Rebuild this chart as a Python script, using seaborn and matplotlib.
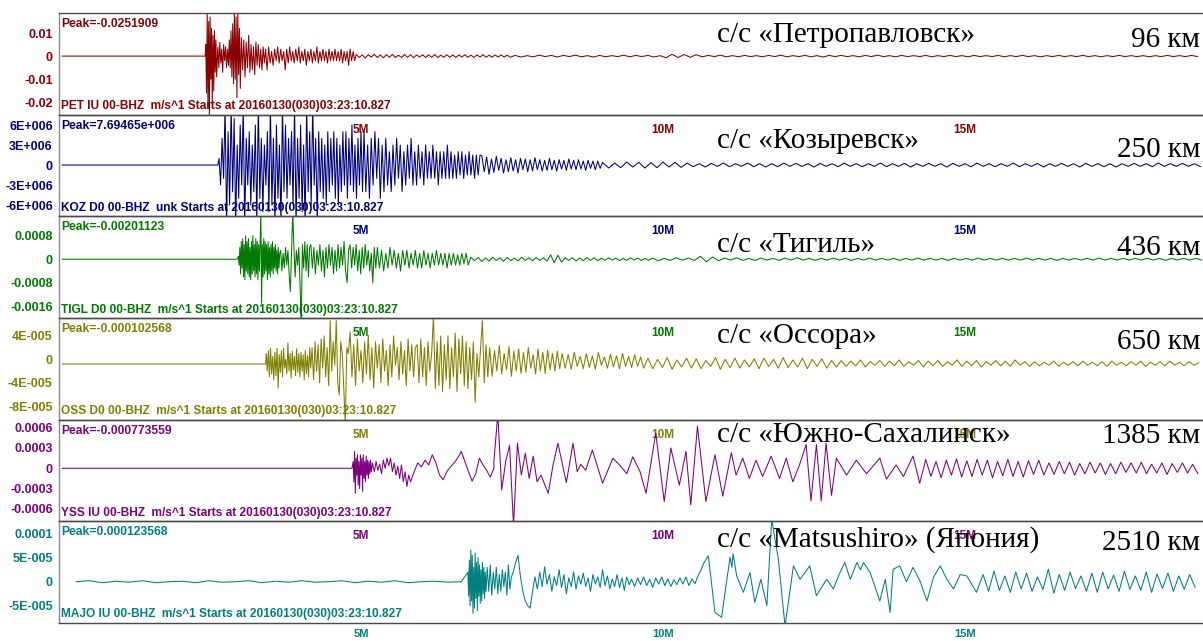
import numpy as np
import pandas as pd
import matplotlib
matplotlib.use("Agg")
import matplotlib.pyplot as plt
import seaborn as sns

# ---------------- DATA (time in minutes, amplitude in listed units) ----------------
STATIONS = ["PET", "KOZ", "TIGL", "OSS", "YSS", "MAJO"]
COLORS = ["#8b0000", "#00007f", "#007a00", "#808000", "#7f007f", "#007f7f"]
UNIT_SCALE = [1e-3, 1e6, 1e-4, 1e-6, 1e-4, 1e-6]
PEAK_TEXT = ["Peak=-0.0251909", "Peak=7.69465e+006", "Peak=-0.00201123",
             "Peak=-0.000102568", "Peak=-0.000773559", "Peak=0.000123568"]
INFO_TEXT = ["PET IU 00-BHZ  m/s^1 Starts at 20160130(030)03:23:10.827",
             "KOZ D0 00-BHZ  unk Starts at 20160130(030)03:23:10.827",
             "TIGL D0 00-BHZ  m/s^1 Starts at 20160130(030)03:23:10.827",
             "OSS D0 00-BHZ  m/s^1 Starts at 20160130(030)03:23:10.827",
             "YSS IU 00-BHZ  m/s^1 Starts at 20160130(030)03:23:10.827",
             "MAJO IU 00-BHZ  m/s^1 Starts at 20160130(030)03:23:10.827"]
STATION_LABELS = ["с/с «Петропавловск»", "с/с «Козыревск»", "с/с «Тигиль»",
                  "с/с «Оссора»", "с/с «Южно-Сахалинск»", "с/с «Matsushiro» (Япония)"]
DISTANCES = ["96 км", "250 км", "436 км", "650 км", "1385 км", "2510 км"]
YTICKS = [[0.01, 0, -0.01, -0.02],
          [6e6, 3e6, 0, -3e6, -6e6],
          [8e-4, 0, -8e-4, -1.6e-3],
          [4e-5, 0, -4e-5, -8e-5],
          [6e-4, 3e-4, 0, -3e-4, -6e-4],
          [1e-4, 5e-5, 0, -5e-5]]
YTICKLABELS = [["0.01", "0", "-0.01", "-0.02"],
               ["6E+006", "3E+006", "0", "-3E+006", "-6E+006"],
               ["0.0008", "0", "-0.0008", "-0.0016"],
               ["4E-005", "0", "-4E-005", "-8E-005"],
               ["0.0006", "0.0003", "0", "-0.0003", "-0.0006"],
               ["0.0001", "5E-005", "0", "-5E-005"]]
XTICKS = [5, 10, 15]
XTICKLABELS = ["5M", "10M", "15M"]

# segments: (start, sample step, values)  or  (times, values)
PET = [
    (0.05, 2.37, [0, 0]),
    (2.43, 0.012, [5, -16, 19, -22, 15, -26, 17, -10, 12, -21, 9, -15, 11, -7, 7, -9]),
    (2.63, 0.016, [4, -5, 6, -3, 3, -7, 5, -2, 4, -5, 3, -4]),
    (2.82, 0.014, [7, -5, 11, -9, 14, -12, 19, -10, 17, -18, 19, -8, 12, -14]),
    (3.02, 0.02, [8, -6, 7, -9, 6, -5, 9, -7, 5, -6, 4, -8, 6, -4, 5, -5, 3, -6, 4, -3]),
    (3.42, 0.025, [3, -6, 4, -3, 2, -4, 3, -2, 4, -3, 3, -2, 2, -6, 3, -3, 4, -2, 2, -3,
                   3, -2, 4, -3, 2, -2, 3, -4, 2, -2, 3, -3, 2, -2, 4, -3, 2, -2, 3, -2,
                   2, -3, 3, -2, 2, -2, 3, -2, 2, -2, 3, -3, 2, -2, 2, -4, 3, -2, 2, -2]),
    (4.92, 0.05, [0.7, -0.6, 0.5, -0.8, 0.6, -0.4, 0.8, -0.6, 0.5, -0.7, 0.6, -0.5, 0.7,
                  -0.6, 0.4, -0.6, 0.7, -0.5, 0.6, -0.7, 0.5, -0.4, 0.6, -0.6, 0.5, -0.5,
                  0.7, -0.6, 0.4, -0.5, 0.6, -0.5, 0.5, -0.6, 0.5, -0.4, 0.6, -0.5, 0.4,
                  -0.6, 0.5, -0.4, 0.6, -0.5, 0.4, -0.5, 0.5, -0.4, 0.5, -0.4, 0.4, -0.5]),
    (7.55, 0.1, [0.3, -0.4, 0.2, -0.3, 0.4, -0.2, 0.3, -0.4, 0.3, -0.2,
                 0.4, -0.3, 0.2, -0.4, 0.3, -0.3, 0.2, -0.2, 0.4, -0.3,
                 0.3, -0.2, 0.3, -0.4, 0.2, -0.7, 0.8, -0.6, 0.7, -0.5,
                 0.6, -0.3, 0.3, -0.2, 0.4, -0.3, 0.2, -0.3, 0.3, -0.2,
                 0.2, -0.3, 0.3, -0.2, 0.4, -0.3, 0.2, -0.2, 0.3, -0.3,
                 0.2, -0.4, 0.3, -0.2, 0.3, -0.2, 0.2, -0.3, 0.3, -0.2,
                 0.4, -0.2, 0.2, -0.3, 0.3, -0.2, 0.2, -0.2, 0.3, -0.3,
                 0.2, -0.2, 0.3, -0.2, 0.2, -0.3, 0.3, -0.2, 0.2, -0.2,
                 0.3, -0.3, 0.2, -0.2, 0.3, -0.2, 0.2, -0.3, 0.2, -0.2,
                 0.3, -0.2, 0.2, -0.2, 0.3, -0.2, 0.2, -0.3, 0.2, -0.2,
                 0.3, -0.2, 0.2, -0.2, 0.2, -0.3, 0.2, -0.2, 0.3, -0.2,
                 0.2, -0.2, 0.3, -0.2]),
]

KOZ = [
    (0.05, 2.58, [0, 0]),
    (2.65, 0.025, [1, -3, 4, -2, 9, -9, 5, -6, 9, -4, 7, -9, 3, -5, 6, -3, 9, -9, 4, -3,
                   5, -6, 3, -4, 6, -9, 9, -5, 4, -7, 3, -3, 5, -7, 9, -6, 4, -9, 6, -5,
                   3, -9, 9, -4, 6, -5, 4, -3, 5, -6, 9, -9, 4, -5, 6, -7, 3, -9, 9, -4,
                   5, -6, 9, -3, 4, -9, 5, -4, 4, -5, 3, -6, 5, -4, 4, -3, 5, -5, 4, -6,
                   3, -4, 5, -3, 5, -5, 4, -3, 6, -4, 3, -5, 4, -3, 5, -4]),
    (5.05, 0.03, [5, -4, 3, -5, 4, -3, 5, -2, 4, -5, 3, -4, 4, -3, 2, -4, 3, -3, 4, -2,
                  3, -4, 2, -3, 3, -2, 4, -3, 2, -3, 3, -2, 2, -3, 3, -2, 2, -2, 3, -2,
                  2, -3, 2, -2, 2, -2, 3, -2, 2, -2, 1.5, -2, 2, -1.5, 2, -2, 1.5, -1.5,
                  2, -1.5, 1.5, -2, 1.5, -1.5, 1.5]),
    (7.0, 0.04, [1.4, -1, 1.2, -1.4, 0.9, -1.1, 1.3, -0.8, 1, -1.2, 0.8, -1, 1.1, -0.9,
                 0.8, -1.2, 1, -0.7, 0.9, -1, 0.8, -0.9, 1.1, -0.7, 0.8, -0.9, 0.7, -0.8,
                 1, -0.7, 0.7, -0.9, 0.8, -0.6, 0.7, -0.8, 0.9, -0.6, 0.7, -0.7, 0.8,
                 -0.6, 0.6, -0.8, 0.7, -0.5, 0.6, -0.7, 0.6, -0.5]),
    (9.0, 0.1, [0.4, -0.45, 0.3, -0.4, 0.45, -0.3, 0.4, -0.45, 0.35, -0.4, 0.45, -0.3,
                0.4, -0.35, 0.3,
                -0.25, 0.2, -0.3, 0.25, -0.2, 0.3, -0.25, 0.2, -0.2, 0.3,
                -0.25, 0.2, -0.3, 0.2, -0.25, 0.3, -0.2, 0.25, -0.2, 0.2,
                -0.3, 0.25, -0.2, 0.2, -0.25, 0.3, -0.2, 0.2, -0.25, 0.2,
                -0.2, 0.3, -0.25, 0.2, -0.2, 0.25, -0.3, 0.2, -0.2, 0.25,
                -0.2, 0.2, -0.3, 0.25, -0.2, 0.2, -0.25, 0.3, -0.2, 0.2,
                -0.25, 0.2, -0.2, 0.3, -0.25, 0.2, -0.2, 0.25, -0.3, 0.2,
                -0.2, 0.25, -0.2, 0.2, -0.3, 0.25, -0.2, 0.2, -0.25, 0.2,
                -0.3, 0.2, -0.2, 0.25, -0.2, 0.2, -0.25, 0.3, -0.2, 0.2,
                -0.2, 0.25, -0.2, 0.2, -0.25]),
]

TIGL = [
    (0.05, 2.9, [0, 0]),
    (2.97, 0.012, [1, -2, 4, -5, 6, -3, 7, -6, 5, -7, 8, -4, 6, -5, 7, -6, 4, -7, 6, -5,
                   8, -4, 5, -6, 7, -5, 6, -7, 5, -4, 6, 16, -15, 5, -6, 7, -5, 6, -4, 5,
                   -7, 6, -5, 4, -6, 5, -4, 6, -5, 4, -3, 5, -4, 3, -5, 4, -3, 2]),
    (3.67, 0.02, [3, -4, 2, -3, 4, -2, 3, -5, -11, 2, 16, 4, -6, 3, -2, 4, -8, -23, 5, -3,
                  6, -4, 5, -6, 4]),
    (4.17, 0.025, [5, -3, 4, -5, 3, -2, 5, -4, 3, -6, 4, -3, 5, -2, 4, -5, 3, -4, 5, -3,
                   4, -2, 6, -4, -8, 3, 5, -3, 4, -2, 5, -4, 3, -5, 4, -3, 5, -2, 3, -4,
                   2, -8, 4, -3]),
    (5.27, 0.035, [4, -3, 3, -4, 2, -3, 4, -2, 3, -3, 2, -4, 3, -2, 3, -3, 2, -2, 3, -3,
                   2, -3, 3, -2, 2, -3, 2, -2, 3, -2, 2, -2, 2, -3, 2, -2, 2, -2, 1.5, -2,
                   2, -1.5, 2, -2]),
    (6.82, 0.06, [0.7, -0.5, 0.6, -0.7, 0.4, -0.6, 0.7, -0.4, 0.5, -0.7, 0.6, -0.5, 0.4,
                  -0.6, 0.7, -0.4, 0.5, -0.5, 0.6, -0.4, 0.5, -0.6, 1.5, -1.2, 1.4, -1.0,
                  0.5, -0.4, 0.5, -0.6, 0.4, -0.5, 0.6, -0.4, 0.5, -0.5, 0.4, -0.4, 0.5,
                  -0.3, 0.4, -0.5, 0.3, -0.4, 0.5, -0.3, 0.4, -0.4, 0.3, -0.4]),
    (9.82, 0.1, [0.4, -0.5, 0.3, -0.4, 0.5, -0.3, 0.4, -0.4, 1.0, -0.9, 0.8, -0.5, 0.4,
                 -0.3, 0.5, -0.4, 0.3, -0.4, 0.4, -0.3,
                 0.3, -0.4, 0.4, -0.3, 0.5, -0.3, 0.3, -0.4, 0.3, -0.3, 0.4, -0.3, 0.3,
                 -0.4, 0.3, -0.3, 0.4, -0.3, 0.3, -0.3,
                 0.3, -0.4, 0.3, -0.3, 0.4, -0.3, 0.3, -0.3, 0.3, -0.4, 0.3, -0.3, 0.3,
                 -0.3, 0.4, -0.3, 0.3, -0.3, 0.3, -0.3,
                 0.3, -0.3, 0.4, -0.3, 0.3, -0.3, 0.3, -0.4, 0.3, -0.3, 0.3, -0.3, 0.3,
                 -0.3, 0.4, -0.3, 0.3, -0.3, 0.3, -0.3,
                 0.3, -0.3, 0.3, -0.3, 0.3, -0.4, 0.3, -0.3, 0.3, -0.3, 0.3, -0.3]),
]

OSS = [
    (0.05, 3.37, [-8, -8]),
    (3.43, 0.018, [10, -20, 15, -30, 19, -25, 5, -35, 12, -28, 19, -49, 8, -22, 15, -30,
                   19, -15, 0, -25, 28, -20, 10, -32, 14, -18, 5, -28, 18, -22, 10, -30,
                   12, -20, 8, -35, 15, -25, 6, -30, 20, -15]),
    (4.19, 0.025, [20, -35, 30, -20, 25, -40, 35, -15, 40, -30, 20, -45, 66, -20, 30, -10,
                   66, -40, -61, 30, 10, -50, -110, 20]),
    (4.79, 0.03, [10, 47, -30, 25, -45, 35, -20, 15, -40, 30, -25, 41, -35, 20, -49, 30,
                  -15, 25, -40, 35, -20, 15, -45, 25, -30, 40, -10, 20, -35, 30, -25, 15,
                  -45, 35, -20, 25, -30, 20]),
    (5.93, 0.03, [25, -40, 35, -30, 20, -45, 30, -20, 10, 75, -50, 30, -45, 40, -55, 25,
                  -35, 40, -50, 20, -30, 45, -55, 35, -25, 40, -45, 30, -50, 20, -35, 30,
                  -73, 10, -30, 20, 66, -40, 25, -30]),
    (7.13, 0.04, [20, -29, 15, -20, 24, -25, 10, -18, 22, -29, 14, -20, 18, -24, 12, -22,
                  20, -15, 8, -25, 18, -20, 12, -24, 16, -18, 10, -20, 14, -16]),
    (8.33, 0.05, [10, -15, 8, -17, 12, -12, 5, -16, 10, -14, 6, -17, 12, -10, 4, -15, 9,
                  -13, 6, -16, 10, -12, 5, -14, 8, -12, 4, -15]),
    (9.75, 0.08, [2, -16, 0, -14, 3, -17, -1, -13, 2, -15, 1, -16, -2, -12, 3, -17, 0, -14,
                  2, -15, -1, -13, 1, -16, 2, -12, 0, -15, 3, -14, -1, -13, 2, -16, 0, -12,
                  1, -15, -2, -13,
                  -2, -12, -3, -11, -1, -13, -4, -10, -2, -12, -3, -11, -1, -12, -4, -10,
                  -2, -13, -3, -11, -2, -12, -4, -10, -1, -12, -3, -11, -2, -13, -4, -10,
                  -2, -11, -3, -12, -1, -10, -4, -12,
                  -4, -11, -5, -10, -3, -12, -5, -10, -4, -11, -3, -10, -5, -11, -4, -12,
                  -3, -10, -5, -11, -4, -10, -3, -12, -5, -10, -4, -11, -3, -10, -5, -11,
                  -4, -10, -6]),
]

YSS = [
    (0.05, 4.8, [0, 0]),
    (4.87, 0.012, [1, -2, 2.5, -3.7, 1.5, -1, 2, -2.5, 1, -3, 2, -1, 1.5, -3.4, 2, -1.5,
                   1, -2, 1.8, -1, 1.2, -1.5, 1, -0.8, 1.2, -0.5]),
    (5.19, 0.03, [0.8, -0.5, 1, -0.3, 0.6, -0.8, 1.2, 0, 1.5, 0.4, 1.5, -0.5, 0.8, -1,
                  0.3, -1.5, 0.5, -2, -0.5, -2.7, -1]),
    (5.82, 0.06, [-2, -0.5, 0.8, 0.2, 1.2, 0.5, 2, 0.8, -1, -1.7, -0.5, 0.2, 0.8, 1.5,
                  2.5, 1, -0.5, -1.9, -0.8, 1.5, 0.5, -0.3, -1.3, 0]),
    (7.2, 0.065, [1, 8, -3.2, 1, 3.4, -8.5, 3.7, -1, 2.2, -1.5, 1.8, -2]),
    ([7.98, 8.1, 8.18, 8.26, 8.4, 8.51, 8.58, 8.64, 8.72, 8.83, 9.0, 9.17, 9.3, 9.4,
      9.5, 9.62, 9.72, 9.88, 10.02, 10.13, 10.27, 10.38, 10.46, 10.57, 10.71, 10.86,
      10.99, 11.13, 11.21, 11.32, 11.43, 11.54, 11.65, 11.79, 11.93, 12.04, 12.15,
      12.26, 12.37, 12.45, 12.54, 12.62, 12.7, 12.79, 12.87, 13.04, 13.2, 13.37, 13.59,
      13.7, 13.86, 13.98, 14.14, 14.25],
     [-1, -3.7, 0.5, 3.7, -2.1, 3.7, -0.5, 0.6, -0.3, 2.7, -2.2, 1.5, 0.3, -0.8, 1.7,
      -0.5, -3.7, 5.2, -4.9, 3, -2.5, 2.5, -5.4, 6.2, -4.9, 2, -4.1, 2.3, -1, 1.5,
      -1.5, 1.2, -1.2, 1.8, -1.5, 1.5, -2, 0.5, 3.5, -4.8, 3.5, -4.8, 3.7, -4, 1.5,
      -1, 1.2, -0.8, 1.5, -1.6, 0.5, -1.2, 1.8, -2.2]),
    (14.35, 0.085, [1.3, -1.2, 1.0, -1.4, 1.2, -1.0, 1.4, -1.3, 1.1, -1.2, 1.3, -1.0,
                    1.2, -1.4, 1.0, -1.1, 1.3, -1.2, 1.0, -1.3, 1.1, -0.9, 1.2, -1.0,
                    0.8, -0.9, 1.0, -0.8, 0.9, -1.0, 0.7, -0.8, 0.9, -0.7, 0.8, -0.9,
                    0.7, -0.8, 0.9, -0.6, 0.8, -0.7, 0.9, -0.8, 0.6, -0.7, 0.8, -0.9,
                    0.7, -0.6, 0.8, -0.7, 0.6, -0.8]),
]

MAJO = [
    (0.28, 0.22, [0, 2, -2, 1, -1, 2, -2, 0, 1, -2, 2, -1, 0, 2, -2, 1, -1, 2, -1, 0,
                  2, -2, 1, -1, 2, -2, 0, 1, -1, 0]),
    (6.77, 0.012, [20, -30, 45, -50, 66, -40, 55, -66, 30, -55, 60, -35, 40, -60, 50, -30,
                   35, -45, 25, -40, 40, -25, 30, -35, 20, -20]),
    (7.09, 0.025, [30, -20, 35, -28, 20, -15, 30, -25, 15, -20, 25, -10, 20, -28, 35, -15,
                   10]),
    (7.52, 0.04, [20, 40, 55, 10, -20, -40, -50, -55, -20]),
    (7.88, 0.04, [10, -15, 20, -10, 31, -5, 15, -20, 10, -8, 25, -12, 15, -25, 8, -10, 20,
                  -15, 12, -5, 18, -10, 8, -20, 15, -5, 10, -12, 25, -8, 12, -15, 6, -10,
                  15, -12, 8, -18, 10, -6]),
    (9.48, 0.05, [5, -10, 8, -6, 10, -8, 5, -12, 8, -5, 10, -8, 6, -10, 4, -6, 8, -5, 10,
                  -8, 6, -4, 12, 25, 40]),
    ([10.75, 10.86, 10.97, 11.11, 11.14, 11.16, 11.22, 11.33, 11.44, 11.52, 11.62, 11.72,
      11.8, 11.91, 12.02, 12.16, 12.27, 12.43, 12.54, 12.71, 12.82, 12.93, 13.01, 13.1,
      13.21, 13.27, 13.32, 13.43, 13.59, 13.68, 13.76, 13.81, 13.92, 14.03, 14.14, 14.26,
      14.37, 14.48, 14.59, 14.7, 14.81, 14.92, 15.03, 15.19],
     [54, -64, -74, 51, 30, 58, 12, -22, 19, -43, 5, -50, 130, 47, -92, 33, 5, 33, -29,
      5, -15, 19, 40, 5, 40, 25, 40, 19, -40, 5, -64, 26, 33, 0, 30, 0, -40, 10, 33, 5,
      -15, 15, 12, -22]),
    (15.3, 0.09, [15, -20, 22, -18, 12, -22, 20, -15, 18, -20, 10, -16, 26, -24, 15, -18,
                  20, -14, 12, -20, 18, -22, 20, -15, 14, -20, 22, -16, 12, -18, 20, -22,
                  16, -14, 18, -20, 12, -16, 15, -12]),
]

TRACES = [PET, KOZ, TIGL, OSS, YSS, MAJO]
YLIMS = [(-0.0254, 0.0187), (-7.69e6, 7.55e6), (-0.00200, 0.00146),
         (-1.03e-4, 7.06e-5), (-7.83e-4, 7.18e-4), (-8.6e-5, 1.258e-4)]

# ---------------- helpers ----------------
def build(segments, scale):
    ts, vs = [], []
    for seg in segments:
        if isinstance(seg[0], (list, tuple)):
            times, vals = seg
        else:
            t0, dt, vals = seg
            times = [t0 + i * dt for i in range(len(vals))]
        ts.extend(times)
        vs.extend(vals)
    return pd.DataFrame({"t": ts, "v": np.asarray(vs, dtype=float) * scale})

# ---------------- figure ----------------
sns.set_style("white")
plt.rcParams["font.family"] = ["Liberation Sans", "DejaVu Sans"]

W, H = 1203, 641
fig = plt.figure(figsize=(W / 100, H / 100), dpi=100)
fig.patch.set_facecolor("white")

left_px, top_px, bottom_px = 59, 13, 623
panel_h = (bottom_px - top_px) / 6.0
XMAX = (W - left_px) / 60.4
SERIF = ["Liberation Serif", "DejaVu Serif"]
label_base = [42, 148, 252, 343, 442, 547]
dist_base = [47, 157, 255, 349, 443, 550]

for k in range(6):
    top = top_px + k * panel_h
    ax = fig.add_axes([left_px / W, 1 - (top + panel_h) / H, (W - left_px) / W, panel_h / H])
    ax.set_facecolor("none")
    col = COLORS[k]
    df = build(TRACES[k], UNIT_SCALE[k])
    sns.lineplot(data=df, x="t", y="v", ax=ax, color=col, lw=0.75,
                 estimator=None, sort=False)
    ax.set_xlim(0, XMAX)
    ax.set_ylim(*YLIMS[k])
    ax.set_xlabel("")
    ax.set_ylabel("")
    last = (k == 5)
    ax.set_xticks(XTICKS, labels=XTICKLABELS, fontsize=8 if last else 8.5,
                  fontweight="bold", color=col)
    ax.set_yticks(YTICKS[k], labels=YTICKLABELS[k], fontsize=9, fontweight="bold", color=col)
    ax.tick_params(axis="x", direction="out", length=3 if last else 4, width=0.8,
                   color="#7a7a7a", pad=1.0 if last else 2.5)
    ax.tick_params(axis="y", direction="out", length=3, width=0.8, color="#7a7a7a", pad=1.5)
    ax.spines["right"].set_visible(False)
    ax.spines["left"].set_color("#8a8a8a")
    ax.spines["left"].set_linewidth(1.0)
    for s in ("top", "bottom"):
        ax.spines[s].set_color("#4a4a4a")
        ax.spines[s].set_linewidth(1.0)
    ax.text(2 / (W - left_px), 1 - 14 / panel_h, PEAK_TEXT[k], transform=ax.transAxes,
            fontsize=8.7, fontweight="bold", color=col, va="baseline", ha="left")
    ax.text(2 / (W - left_px), 5.5 / panel_h, INFO_TEXT[k], transform=ax.transAxes,
            fontsize=8.6, fontweight="bold", color=col, va="baseline", ha="left")

for k in range(6):
    fig.text(717 / W, 1 - label_base[k] / H, STATION_LABELS[k], family=SERIF,
             fontsize=21, color="black", va="baseline", ha="left", zorder=10)
    fig.text(1200 / W, 1 - dist_base[k] / H, DISTANCES[k], family=SERIF,
             fontsize=21, color="black", va="baseline", ha="right", zorder=10)

fig.savefig("out.png", dpi=100)
